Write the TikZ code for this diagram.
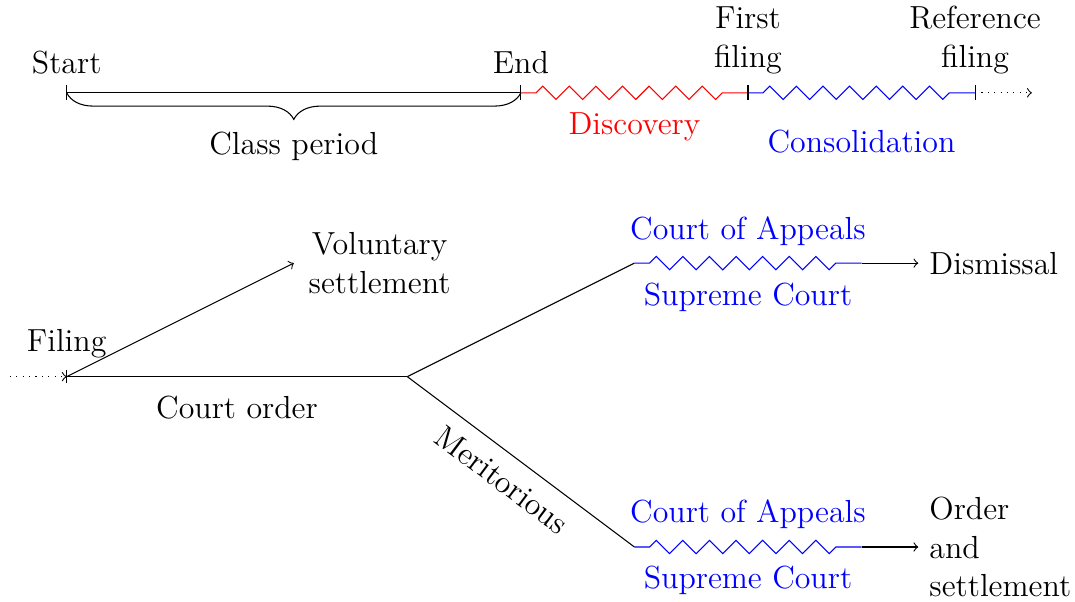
\documentclass[tikz,border=0pt]{standalone}
\usetikzlibrary{decorations.pathmorphing,decorations.pathreplacing}
\begin{document}
\begin{tikzpicture}[font=\fontsize{12}{14.5}\selectfont, >=to,
  zz/.style={decorate, decoration={zigzag, segment length=10pt, amplitude=2.5pt, pre length=0.2cm, post length=0.3cm}},
  lbl/.style={inner sep=4pt},
  mark tick/.style={line width=0.4pt}]
\useasboundingbox (-0.881,-2.976) rectangle (13.320,4.976);

% ---------- top timeline ----------
\coordinate (start) at (0,3.75);
\coordinate (end) at (6,3.75);
\coordinate (first) at (9,3.75);
\coordinate (ref) at (12,3.75);
\coordinate (tend) at (12.75,3.75);

\draw (start) -- (end);
\draw[decorate, decoration={brace, mirror, amplitude=10pt}] (start) -- (end);
\draw[red, zz] (end) -- (first);
\draw[blue, zz] (first) -- (ref);
\draw[dotted, ->] (ref) -- (tend);

\foreach \p in {start,end,first,ref}
  \draw[mark tick] ([yshift=-0.1cm]\p) -- ([yshift=0.1cm]\p);

\node[lbl, anchor=south] (startlbl) at (0,3.85) {Start};
\node[lbl, anchor=south] (endlbl) at (6,3.85) {End};
\node[lbl, anchor=south, align=center] (firstlbl) at (9,3.85) {First\\filing};
\node[lbl, anchor=south, align=center] (reflbl) at (12,3.85) {Reference\\filing};
\node[lbl] (cp) at (3,3.04) {Class period};
\node[lbl, red] (disc) at (7.5,3.30) {Discovery};
\node[lbl, blue] (cons) at (10.5,3.10) {Consolidation};

% ---------- bottom tree ----------
\coordinate (fil) at (0,0);
\coordinate (fin) at (-0.75,0);
\coordinate (split) at (4.5,0);
\coordinate (up) at (7.5,1.5);
\coordinate (upz) at (10.5,1.5);
\coordinate (lo) at (7.5,-2.25);
\coordinate (loz) at (10.5,-2.25);

\node[lbl, anchor=west, align=center] (vol) at (3.05,1.5) {Voluntary\\settlement};
\node[lbl, anchor=west] (dis) at (11.25,1.5) {Dismissal};
\node[lbl, anchor=west, align=left] (ord) at (11.25,-2.25) {Order\\and\\settlement};

\draw[dotted, ->] (fin) -- (fil);
\draw[mark tick] ([yshift=-0.09cm]fil) -- ([yshift=0.09cm]fil);
\draw[->] (fil) -- ([xshift=-0.05cm]vol.west);
\draw (fil) -- (split);
\draw (split) -- (up);
\draw (split) -- (lo);
\draw[blue, zz] (up) -- (upz);
\draw[blue, zz] (lo) -- (loz);
\draw[->] (upz) -- (dis.west);
\draw[->] (loz) -- (ord.west);

\node[lbl, anchor=south] (fillbl) at (0,0.1) {Filing};
\node[lbl] (co) at (2.25,-0.41) {Court order};
\node[lbl, rotate=-36.87] (mer) at (5.75,-1.36) {Meritorious};
\node[lbl, blue] (ca1) at (9,1.92) {Court of Appeals};
\node[lbl, blue] (sc1) at (9,1.05) {Supreme Court};
\node[lbl, blue] (ca2) at (9,-1.82) {Court of Appeals};
\node[lbl, blue] (sc2) at (9,-2.69) {Supreme Court};
\end{tikzpicture}
\end{document}
